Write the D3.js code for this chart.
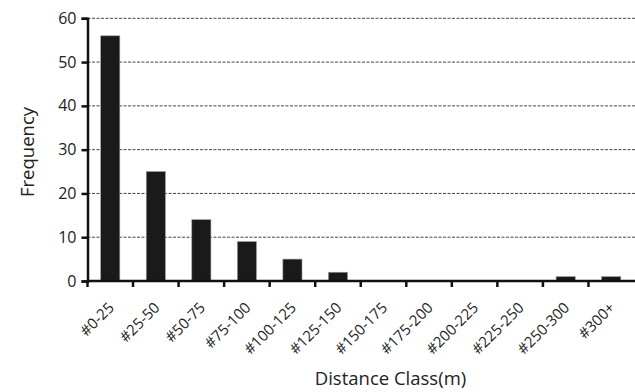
<!DOCTYPE html>
<html><head><meta charset="utf-8">
<script src="https://cdn.jsdelivr.net/npm/d3@7"></script>
<style>body{margin:0;background:#fff}svg{display:block}</style>
</head><body>
<script>
const categories = ["#0-25","#25-50","#50-75","#75-100","#100-125","#125-150","#150-175","#175-200","#200-225","#225-250","#250-300","#300+"];
const frequency = [56,25,14,9,5,2,0,0,0,0,1,1];
const yTicks = [0,10,20,30,40,50,60];

const W=635,H=392;
const m={left:87.5,right:1,top:18.3,bottom:111};
const svg=d3.select("body").append("svg").attr("width",W).attr("height",H);
const font="'Open Sans', sans-serif";
const x=d3.scaleBand().domain(categories).range([m.left,W-m.right]).paddingInner(0.58).paddingOuter(0.29);
const y=d3.scaleLinear().domain([0,60]).range([H-m.bottom,m.top]);

// gridlines
svg.append("g").selectAll("line").data(yTicks.filter(d=>d>0)).join("line")
  .attr("x1",m.left).attr("x2",W).attr("y1",d=>y(d)).attr("y2",d=>y(d))
  .attr("stroke","#444").attr("stroke-width",1).attr("stroke-dasharray","3,1.5");

// bars
svg.append("g").selectAll("rect").data(frequency).join("rect")
  .attr("x",(d,i)=>x(categories[i])).attr("width",x.bandwidth())
  .attr("y",d=>y(d)).attr("height",d=>y(0)-y(d))
  .attr("fill","#1a1a1a").attr("stroke","#9a9a9a").attr("stroke-width",0.6);

// y axis
const ya=svg.append("g").attr("transform",`translate(${m.left},0)`)
  .call(d3.axisLeft(y).tickValues(yTicks).tickSize(6).tickPadding(5));
ya.select(".domain").attr("stroke","#111").attr("stroke-width",2.5);
ya.selectAll(".tick line").attr("stroke","#111").attr("stroke-width",2.5);
ya.selectAll("text").attr("font-family",font).attr("font-size",16).attr("fill","#222");

// x axis
const step=x.step();
const xa=svg.append("g").attr("transform",`translate(0,${y(0)})`);
xa.append("line").attr("x1",m.left).attr("x2",W).attr("stroke","#111").attr("stroke-width",2.5);
xa.selectAll("line.t").data(d3.range(categories.length)).join("line").attr("class","t")
  .attr("x1",i=>m.left+i*step).attr("x2",i=>m.left+i*step).attr("y1",0).attr("y2",6)
  .attr("stroke","#111").attr("stroke-width",2.5);
xa.selectAll("text").data(categories).join("text")
  .attr("transform",d=>`translate(${x(d)+x.bandwidth()/2+1},${24}) rotate(-45)`)
  .attr("text-anchor","end").attr("dy","0.35em")
  .attr("font-family",font).attr("font-size",15).attr("fill","#222").text(d=>d);

svg.append("text").attr("x",390.5).attr("y",385).attr("text-anchor","middle")
  .attr("font-family",font).attr("font-size",18.5).attr("fill","#222").text("Distance Class(m)");
svg.append("text").attr("transform",`translate(34,152) rotate(-90)`)
  .attr("text-anchor","middle").attr("font-family",font).attr("font-size",18.5).attr("fill","#222").text("Frequency");
</script>
</body></html>
